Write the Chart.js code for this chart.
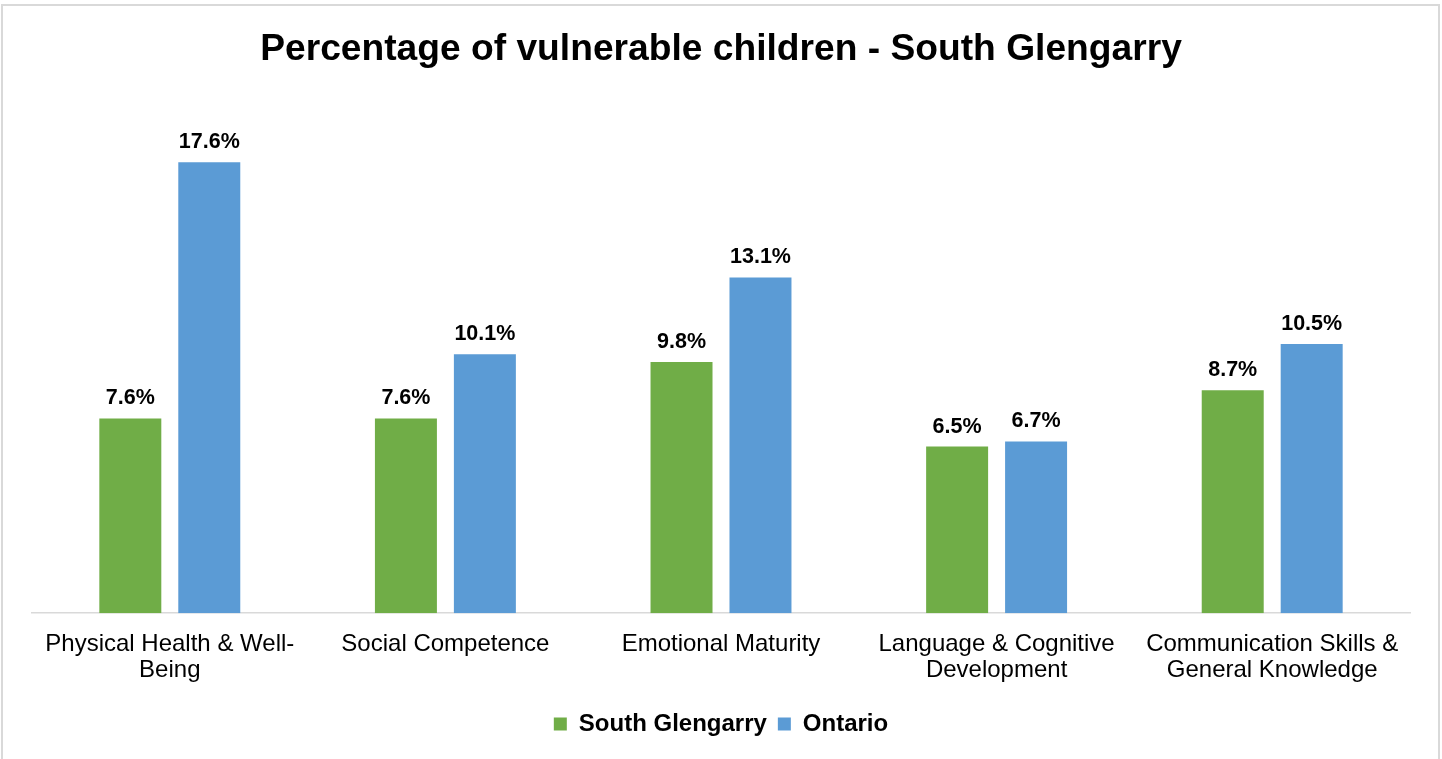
<!DOCTYPE html>
<html>
<head>
<meta charset="utf-8">
<script src="https://cdn.jsdelivr.net/npm/chart.js@4.4.1/dist/chart.umd.min.js"></script>
<style>
  html, body { margin: 0; padding: 0; background: #fff; overflow: hidden; }
  #frame { position: absolute; left: 1px; top: 4px; width: 1439px; height: 800px;
           box-sizing: border-box; border: 2px solid #d9d9d9; pointer-events: none; }
  canvas { position: absolute; left: 0; top: 0; }
</style>
</head>
<body>
<canvas id="chart" width="1442" height="759"></canvas>
<div id="frame"></div>
<script>
const categories = [
  ['Physical Health & Well-', 'Being'],
  'Social Competence',
  'Emotional Maturity',
  ['Language & Cognitive', 'Development'],
  ['Communication Skills &', 'General Knowledge']
];
const southGlengarry = [7.6, 7.6, 9.8, 6.5, 8.7];
const ontario = [17.6, 10.1, 13.1, 6.7, 10.5];

const FONT = "'Liberation Sans', Arial, sans-serif";

// value labels above each bar
const barLabels = {
  id: 'barLabels',
  afterDatasetsDraw(chart) {
    const ctx = chart.ctx;
    ctx.save();
    ctx.font = 'bold 21.5px ' + FONT;
    ctx.fillStyle = '#000';
    ctx.textAlign = 'center';
    ctx.textBaseline = 'alphabetic';
    chart.data.datasets.forEach((ds, i) => {
      chart.getDatasetMeta(i).data.forEach((bar, j) => {
        ctx.fillText(ds.data[j].toFixed(1) + '%', bar.x, bar.y - 14);
      });
    });
    ctx.restore();
  }
};

new Chart(document.getElementById('chart'), {
  type: 'bar',
  data: {
    labels: categories,
    datasets: [
      { label: 'South Glengarry', data: southGlengarry, backgroundColor: '#70AD47',
        categoryPercentage: 0.573, barPercentage: 0.785 },
      { label: 'Ontario', data: ontario, backgroundColor: '#5B9BD5',
        categoryPercentage: 0.573, barPercentage: 0.785 }
    ]
  },
  options: {
    responsive: false,
    animation: false,
    layout: { padding: { left: 32, right: 32, top: 0, bottom: 13 } },
    scales: {
      x: {
        grid: { display: false, drawTicks: false },
        border: { display: true, color: '#d9d9d9', width: 1.5 },
        ticks: { color: '#000', padding: 18, maxRotation: 0,
                 font: { family: FONT, size: 24, lineHeight: 1.08 } }
      },
      y: { display: false, min: 0, max: 20 }
    },
    plugins: {
      title: {
        display: true,
        text: 'Percentage of vulnerable children - South Glengarry',
        color: '#000',
        font: { family: FONT, size: 37.2, weight: 'bold' },
        padding: { top: 27, bottom: 29 }
      },
      legend: {
        position: 'bottom',
        labels: { color: '#000', boxWidth: 13, boxHeight: 13, padding: 11,
                  font: { family: FONT, size: 24, weight: 'bold' } }
      },
      tooltip: { enabled: false }
    }
  },
  plugins: [barLabels]
});
</script>
</body>
</html>
